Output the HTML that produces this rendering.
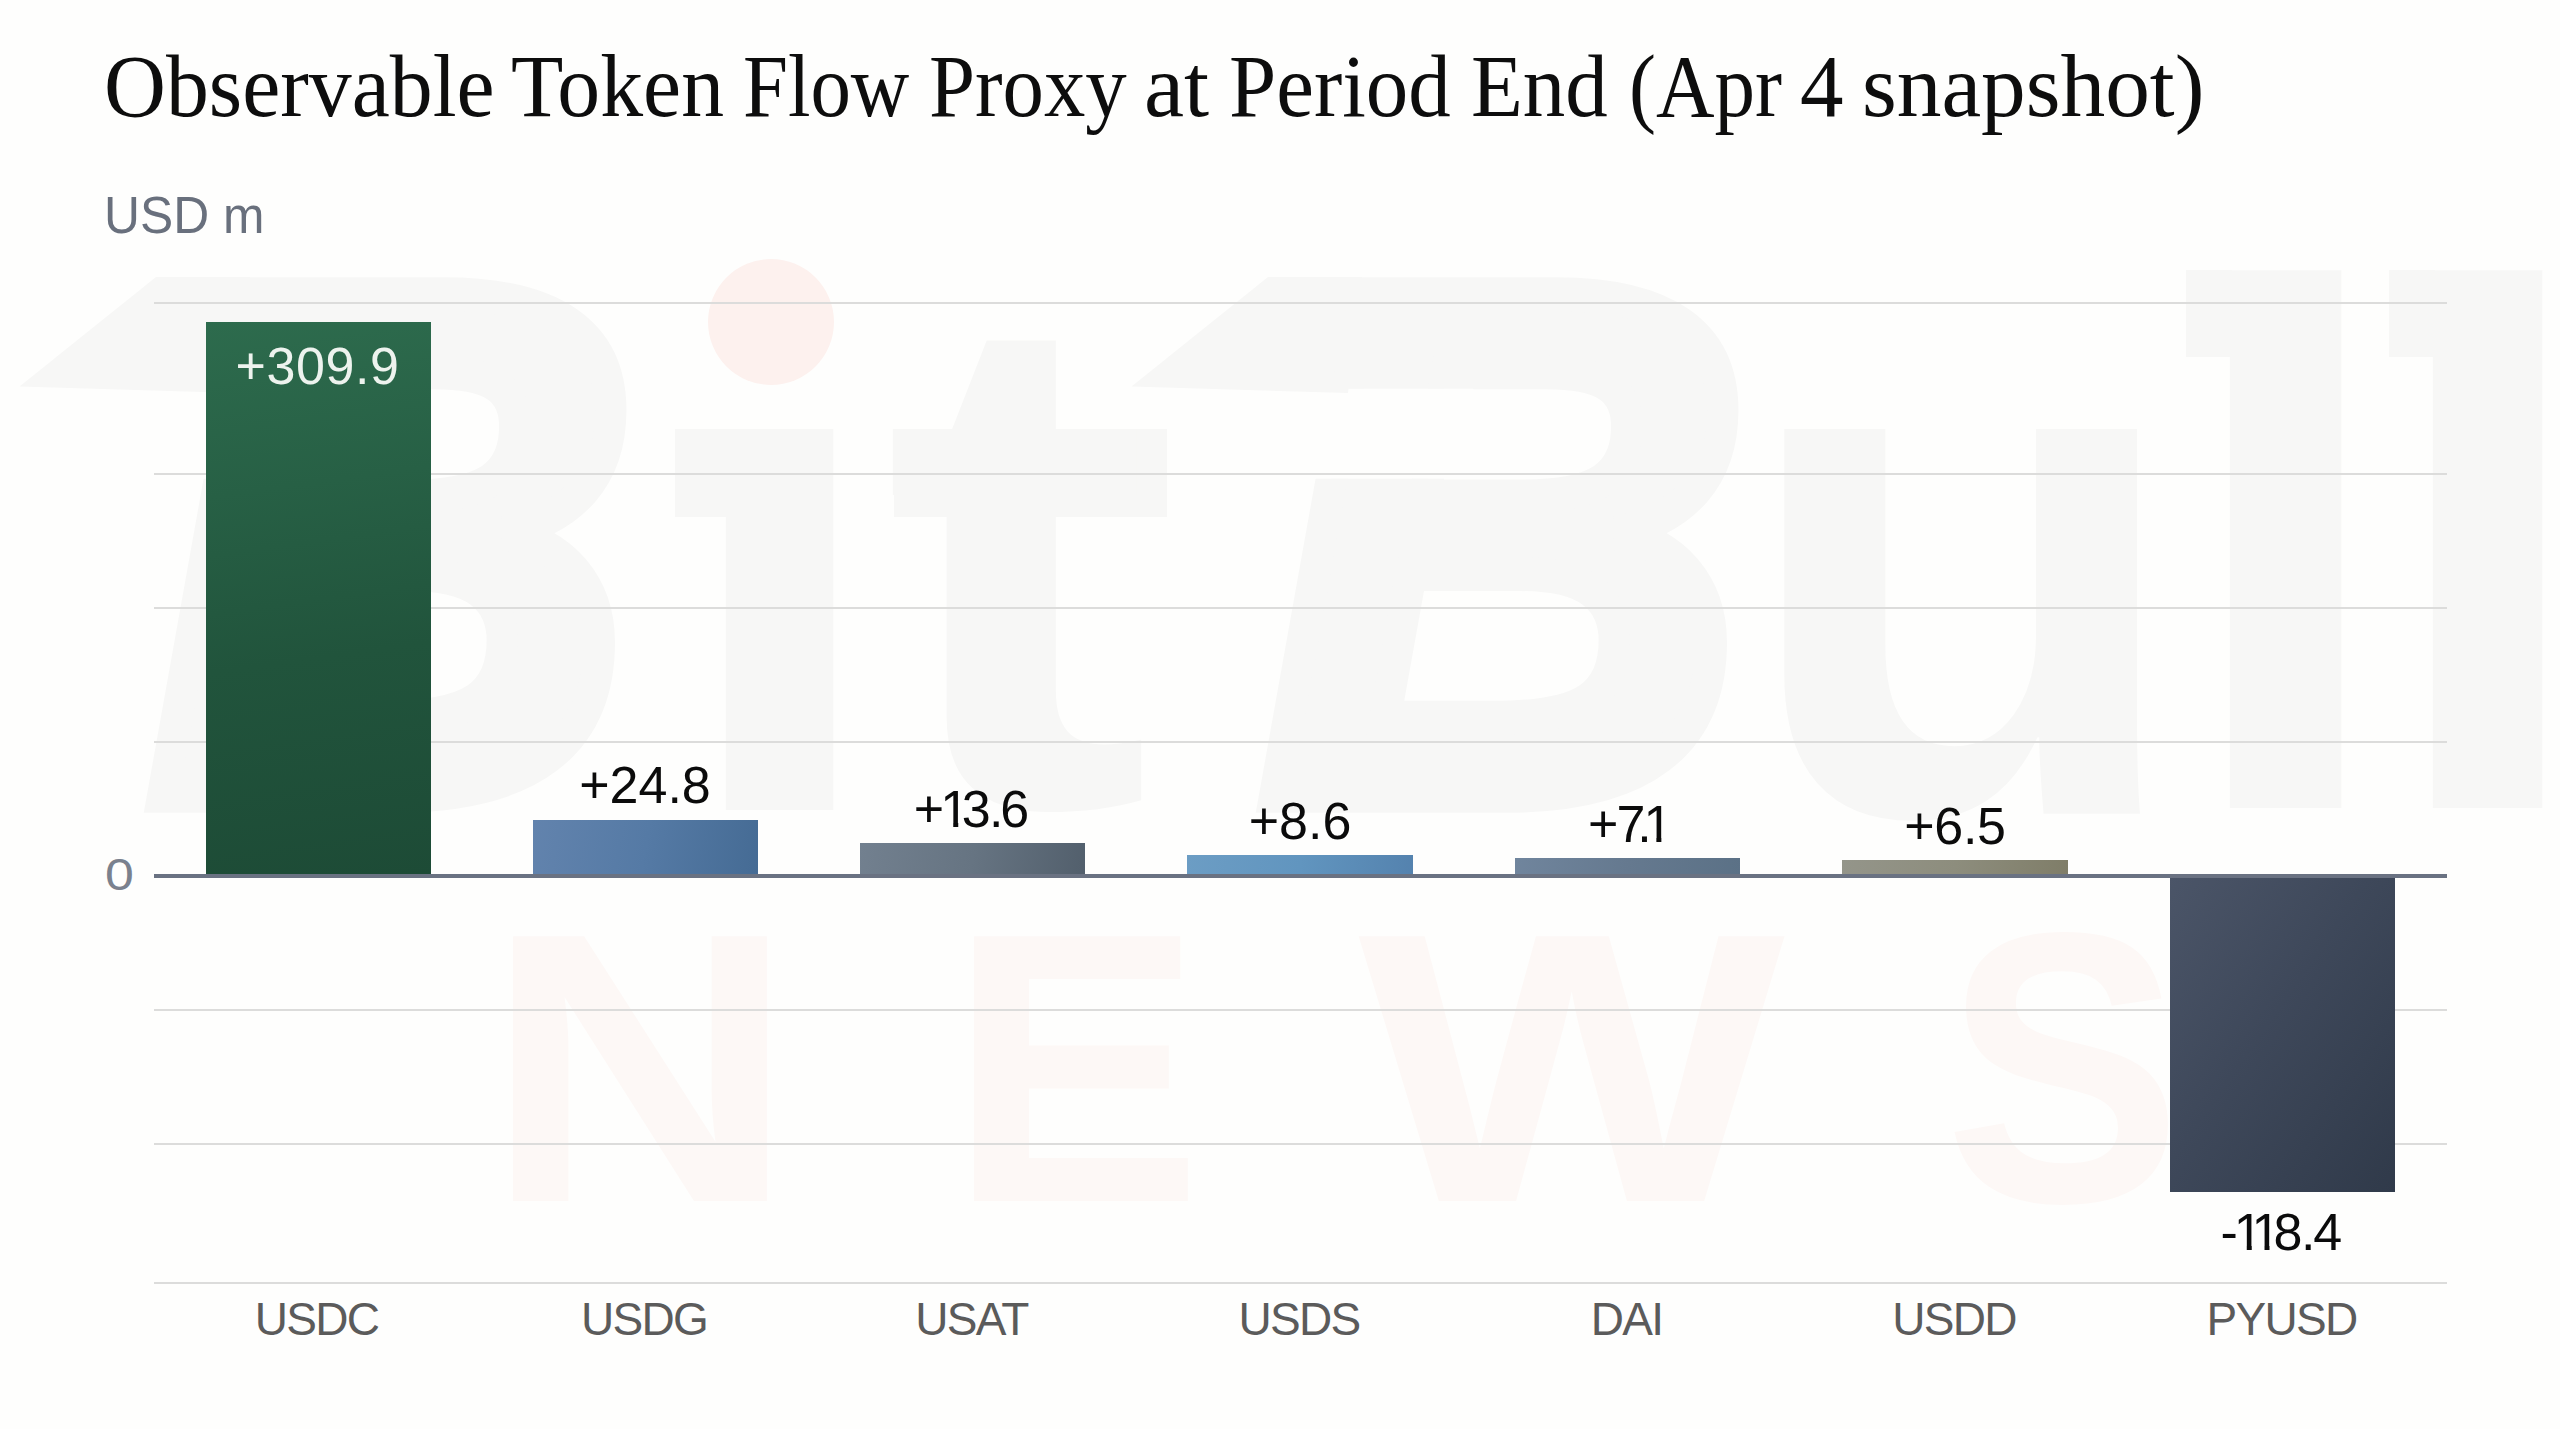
<!DOCTYPE html>
<html lang="en">
<head>
<meta charset="utf-8">
<title>Observable Token Flow Proxy at Period End</title>
<style>
  html, body { margin: 0; padding: 0; }
  body {
    width: 2560px; height: 1429px; overflow: hidden; position: relative;
    background: #fefefd;
    font-family: "Liberation Sans", sans-serif;
  }
  .abs { position: absolute; white-space: nowrap; line-height: 1; }

  /* ---------- watermark ---------- */
  .wm { position: absolute; left: 0; top: 0; width: 2560px; height: 1429px; overflow: hidden; }
  .wm div { position: absolute; left: 0; top: 0; white-space: nowrap; font-size: 0; line-height: 0; }
  .wm span {
    display: inline-block; width: 0; height: 0; vertical-align: top; overflow: visible; white-space: nowrap;
    font-family: "Liberation Sans", sans-serif; font-weight: bold;
    font-size: 600px; line-height: normal; transform-origin: 0 0;
  }
  .wm .g { color: #f7f7f6; }
  .wm .p { color: #fdf8f6; }
  .wm i { position: absolute; display: block; background: #f7f7f6; }
  .wm .bcut { -webkit-text-stroke: 28px #f7f7f6; clip-path: polygon(-60px -20px, 560px -20px, 560px 640px, -60px 640px, -60px 292px, 188px 292px, 188px 218px, -60px 218px); }
  .wm .horn { left: 0; top: 0; width: 2560px; height: 1429px; }

  /* ---------- title ---------- */
  #title {
    left: 0; top: 43px; width: 2560px; height: 101px; margin: 0; font-weight: normal;
    font-family: "Liberation Serif", serif; font-size: 88px; color: #0d0d0d;
  }
  #title { word-spacing: -0.25em; }
  #title span { display: inline-block; position: relative; width: 0; height: 0; vertical-align: top; overflow: visible; white-space: nowrap; word-spacing: 0; line-height: 1; transform-origin: 0 0; }
  #unit { left: 104px; top: 189px; font-size: 52px; color: #69707d; transform-origin: 0 0; transform: scaleX(0.957); }

  /* ---------- grid ---------- */
  .grid { position: absolute; left: 154px; width: 2293px; height: 2px; background: #dcdcdb; }
  #zero { position: absolute; left: 154px; width: 2293px; top: 874px; height: 4px; background: #6a7282; }
  #zlabel { left: 105px; top: 853px; font-size: 44px; color: #7a818e; transform-origin: 0 0; transform: scaleX(1.18); }

  /* ---------- bars ---------- */
  .bar { position: absolute; width: 225px; }
  .val { font-size: 52px; color: #0b0b0b; text-align: center; width: 400px; }
  .valx { font-size: 52px; color: #0b0b0b; font-kerning: none; }
  .n1 { display: inline-block; clip-path: polygon(0 0, 100% 0, 100% 40px, 17.9px 40px, 17.9px 100%, 12.9px 100%, 12.9px 40px, 0 40px); }
  .cat { transform: translateX(-1px); letter-spacing: -1.7px; font-size: 46px; color: #5b5b5b; text-align: center; width: 400px; top: 1296px; }
</style>
</head>
<body>

<div class="wm">
  <i class="horn" style="clip-path:polygon(156px 277px, 250px 277px, 236px 393px, 19.5px 386.5px);"></i>
  <i class="horn" style="clip-path:polygon(1268px 277px, 1362px 277px, 1348px 393px, 1131.5px 386.5px);"></i>
  <i style="left:675px; top:429px; width:53px; height:88px;"></i>
  <i style="left:708px; top:259px; width:126px; height:126px; border-radius:50%; background:#fdf1ee;"></i>
  <i style="left:894px; top:429px; width:273px; height:88px;"></i>
  <i style="left:2186px; top:270px; width:46px; height:87px;"></i>
  <i style="left:2389px; top:270px; width:46px; height:87px;"></i>
  <div><span class="g bcut" style="font-style:italic;transform:matrix(1.1187,0,0,1.2150,150.96,123.91)">B</span><span class="g" style="clip-path:polygon(-50px 207px, 400px 207px, 400px 800px, -50px 800px);transform:matrix(1.3049,0,0,1.2019,671.20,145.35)">i</span><span class="g" style="transform:matrix(1.3410,0,0,1.1890,883.00,148.30)">t</span><span class="g bcut" style="font-style:italic;transform:matrix(1.1187,0,0,1.2150,1262.96,123.91)">B</span><span class="g" style="transform:matrix(1.2276,0,0,1.2136,1738.58,142.59)">u</span><span class="g" style="transform:matrix(1.3537,0,0,1.2368,2173.15,124.06)">l</span><span class="g" style="transform:matrix(1.3293,0,0,1.2368,2377.17,124.06)">l</span></div>
  <div><span class="p" style="transform:matrix(0.7195,0,0,0.6416,484.22,846.17)">N</span><span class="p" style="transform:matrix(0.6350,0,0,0.6416,948.60,846.17)">E</span><span class="p" style="transform:matrix(0.7535,0,0,0.6416,1358.25,846.17)">W</span><span class="p" style="transform:matrix(0.5933,0,0,0.6424,1944.32,845.92)">S</span></div>
</div>

<h1 id="title" class="abs"><span style="left:103.9px;transform:scaleX(0.9746)">Observable</span> <span style="left:510.6px;transform:scaleX(0.9740)">Token</span> <span style="left:743.1px;transform:scaleX(0.9185)">Flow</span> <span style="left:929.4px;transform:scaleX(0.9403)">Proxy</span> <span style="left:1144.4px;transform:scaleX(1.0250)">at</span> <span style="left:1229.4px;transform:scaleX(0.9648)">Period</span> <span style="left:1470.9px;transform:scaleX(0.9649)">End</span> <span style="left:1628.6px;transform:scaleX(0.9211)">(Apr</span> <span style="left:1800.0px;transform:scaleX(0.9878)">4</span> <span style="left:1861.9px;transform:scaleX(1.0152)">snapshot)</span></h1>
<div id="unit" class="abs">USD m</div>

<div class="grid" style="top:302px"></div>
<div class="grid" style="top:473px"></div>
<div class="grid" style="top:607px"></div>
<div class="grid" style="top:741px"></div>
<div class="grid" style="top:1009px"></div>
<div class="grid" style="top:1143px"></div>
<div class="grid" style="top:1282px"></div>

<div class="bar" style="left:205.5px; top:321.5px; height:554px; background:linear-gradient(172deg,#2d6b4d 0%,#276045 30%,#21543c 60%,#1d4b36 100%);"></div>
<div class="bar" style="left:533px; top:820px; height:56px; background:linear-gradient(100deg,#6283ad 0%,#557aa5 50%,#456b94 100%);"></div>
<div class="bar" style="left:860px; top:843px; height:33px; background:linear-gradient(100deg,#72808f 0%,#667482 50%,#525f6c 100%);"></div>
<div class="bar" style="left:1187px; top:855px; height:21px; width:226px; background:linear-gradient(100deg,#6c9dc4 0%,#6195bf 50%,#5482ae 100%);"></div>
<div class="bar" style="left:1515px; top:858px; height:18px; background:linear-gradient(100deg,#70859d 0%,#65798f 50%,#5b7186 100%);"></div>
<div class="bar" style="left:1842px; top:860px; height:16px; width:226px; background:linear-gradient(100deg,#94958a 0%,#8d8d7d 50%,#7f7d68 100%);"></div>
<div class="bar" style="left:2170px; top:876px; height:316px; background:linear-gradient(125deg,#4b5568 0%,#3e485a 45%,#303a4a 100%);"></div>

<div id="zero"></div>
<div id="zlabel" class="abs">0</div>

<div class="abs val" style="left:117.5px; top:340px; color:#edf3ee; letter-spacing:0.6px;">+309.9</div>
<div class="abs val" style="left:445px; top:759px;">+24.8</div>
<div class="abs valx" style="left:913.7px; top:783px;"><span>+</span><span class="n1" style="margin-left:-3.72px">1</span><span style="margin-left:-7.53px">3</span><span style="margin-left:-1.59px">.</span><span style="margin-left:-3.2px">6</span></div>
<div class="abs val" style="left:1100px; top:795px;">+8.6</div>
<div class="abs valx" style="left:1588.05px; top:798px;"><span>+</span><span style="margin-left:-2.01px">7</span><span style="margin-left:-8.13px">.</span><span class="n1" style="margin-left:-8.21px">1</span></div>
<div class="abs val" style="left:1755px; top:800px; letter-spacing:-0.3px;">+6.5</div>
<div class="abs valx" style="left:2220.47px; top:1206px;"><span>-</span><span class="n1" style="margin-left:-3.95px">1</span><span class="n1" style="margin-left:-11.18px">1</span><span style="margin-left:-6.99px">8</span><span style="margin-left:-1.5px">.</span><span style="margin-left:-2.27px">4</span></div>

<div class="abs cat" style="left:117.5px;">USDC</div>
<div class="abs cat" style="left:445px;">USDG</div>
<div class="abs cat" style="left:772.5px;">USAT</div>
<div class="abs cat" style="left:1100px;">USDS</div>
<div class="abs cat" style="left:1427.5px;">DAI</div>
<div class="abs cat" style="left:1755px;">USDD</div>
<div class="abs cat" style="left:2082.5px;">PYUSD</div>

</body>
</html>
